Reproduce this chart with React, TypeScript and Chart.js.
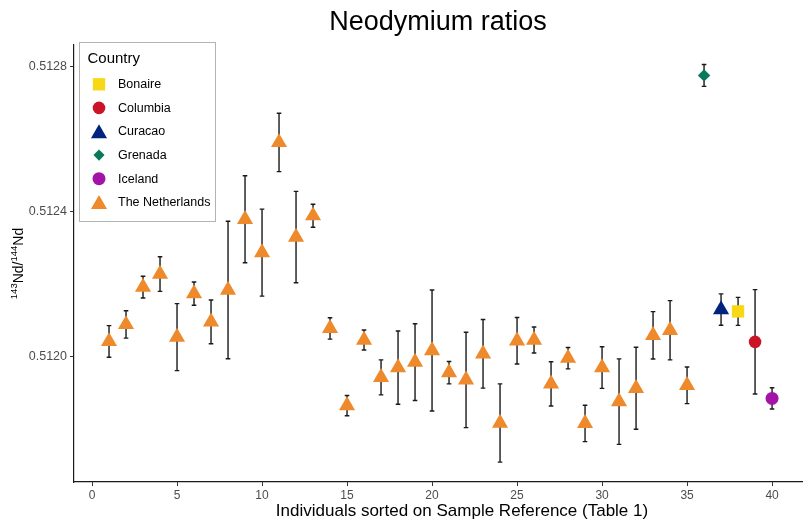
import React, { useEffect, useRef } from 'react';
import { Chart, registerables } from 'chart.js';

Chart.register(...registerables);

// ---------- data ----------
const individuals = [
  1, 2, 3, 4, 5, 6, 7, 8, 9, 10,
  11, 12, 13, 14, 15, 16, 17, 18, 19, 20,
  21, 22, 23, 24, 25, 26, 27, 28, 29, 30,
  31, 32, 33, 34, 35, 36, 37, 38, 39, 40,
];
const ndRatio = [
  0.512042, 0.512089, 0.512192, 0.512228, 0.512054, 0.512174, 0.512096, 0.512184, 0.512379, 0.512287,
  0.512591, 0.51233, 0.512389, 0.512078, 0.511865, 0.512046, 0.511943, 0.51197, 0.511985, 0.512017,
  0.511956, 0.511936, 0.512008, 0.511817, 0.512044, 0.512046, 0.511925, 0.511996, 0.511816, 0.51197,
  0.511876, 0.511913, 0.512059, 0.512073, 0.511921, 0.512776, 0.51213, 0.512125, 0.512041, 0.511885,
];
const ndError = [
  0.0000436, 0.0000377, 0.0000299, 0.0000478, 0.0000924, 0.0000322, 0.0000602, 0.0001895, 0.00012, 0.00012,
  0.0000805, 0.000126, 0.0000317, 0.0000295, 0.0000281, 0.0000276, 0.0000483, 0.000101, 0.000106, 0.000167,
  0.0000309, 0.0001316, 0.0000946, 0.000108, 0.000064, 0.0000359, 0.0000612, 0.0000295, 0.0000502, 0.0000574,
  0.000118, 0.000113, 0.0000653, 0.0000818, 0.0000506, 0.0000303, 0.0000433, 0.0000386, 0.000144, 0.0000295,
];
const NL = 'The Netherlands';
const sampleCountry = [
  NL, NL, NL, NL, NL, NL, NL, NL, NL, NL,
  NL, NL, NL, NL, NL, NL, NL, NL, NL, NL,
  NL, NL, NL, NL, NL, NL, NL, NL, NL, NL,
  NL, NL, NL, NL, NL, 'Grenada', 'Curacao', 'Bonaire', 'Columbia', 'Iceland',
];
const countries = ['Bonaire', 'Columbia', 'Curacao', 'Grenada', 'Iceland', 'The Netherlands'];
const countryColors = ['#F8D714', '#CB1428', '#00237E', '#087A5B', '#A313A8', '#EE8A2C'];
const countryShapes = ['rect', 'circle', 'triangle', 'rectRot', 'circle', 'triangle'];
const countryRadius = [8.7, 6.3, 9.3, 6.2, 6.5, 9.3];
const xTicks = [0, 5, 10, 15, 20, 25, 30, 35, 40];
const yTicks = [0.512, 0.5124, 0.5128];

const FONT = '"Liberation Sans", Arial, sans-serif';

function drawShape(ctx: CanvasRenderingContext2D, style: string, x: number, y: number, r: number) {
  ctx.beginPath();
  if (style === 'rect') {
    const s = r * Math.SQRT1_2;
    ctx.rect(x - s, y - s, 2 * s, 2 * s);
  } else if (style === 'circle') {
    ctx.arc(x, y, r, 0, Math.PI * 2);
  } else if (style === 'triangle') {
    ctx.moveTo(x, y - r);
    ctx.lineTo(x + 0.866 * r, y + 0.5 * r);
    ctx.lineTo(x - 0.866 * r, y + 0.5 * r);
    ctx.closePath();
  } else if (style === 'rectRot') {
    ctx.moveTo(x - r, y);
    ctx.lineTo(x, y - r);
    ctx.lineTo(x + r, y);
    ctx.lineTo(x, y + r);
    ctx.closePath();
  }
  ctx.fill();
}

const errorBarPlugin = {
  id: 'errorBars',
  beforeDatasetsDraw(chart: any) {
    const ctx = chart.ctx as CanvasRenderingContext2D;
    const xs = chart.scales.x;
    const ys = chart.scales.y;
    ctx.save();
    ctx.strokeStyle = '#1a1a1a';
    ctx.lineWidth = 1.4;
    individuals.forEach((xi, i) => {
      const px = xs.getPixelForValue(xi);
      const top = ys.getPixelForValue(ndRatio[i] + ndError[i]);
      const bot = ys.getPixelForValue(ndRatio[i] - ndError[i]);
      ctx.beginPath();
      ctx.moveTo(px, top);
      ctx.lineTo(px, bot);
      ctx.moveTo(px - 2.3, top);
      ctx.lineTo(px + 2.3, top);
      ctx.moveTo(px - 2.3, bot);
      ctx.lineTo(px + 2.3, bot);
      ctx.stroke();
    });
    ctx.restore();
  },
};

const textPlugin = {
  id: 'texts',
  afterDraw(chart: any) {
    const ctx = chart.ctx as CanvasRenderingContext2D;
    const area = chart.chartArea;
    ctx.save();
    // Title
    ctx.fillStyle = '#000';
    ctx.font = `27px ${FONT}`;
    ctx.textAlign = 'center';
    ctx.textBaseline = 'alphabetic';
    ctx.fillText('Neodymium ratios', 438, 30);
    // X axis title
    ctx.font = `17px ${FONT}`;
    ctx.fillText('Individuals sorted on Sample Reference (Table 1)', 462, 516);

    // Y axis title with superscripts
    const parts: [string, number, number][] = [
      ['143', 9.5, -5.5],
      ['Nd/', 14, 0],
      ['144', 9.5, -5.5],
      ['Nd', 14, 0],
    ];
    let total = 0;
    parts.forEach(([t, s]) => {
      ctx.font = `${s}px ${FONT}`;
      total += ctx.measureText(t).width;
    });
    ctx.translate(22.5, (area.top + area.bottom) / 2);
    ctx.rotate(-Math.PI / 2);
    ctx.textAlign = 'left';
    let xx = -total / 2;
    parts.forEach(([t, s, dy]) => {
      ctx.font = `${s}px ${FONT}`;
      ctx.fillText(t, xx, dy);
      xx += ctx.measureText(t).width;
    });
    ctx.restore();

    // Legend
    ctx.save();
    const lx = 79.5, ly = 42.5, lw = 136, lh = 179;
    ctx.fillStyle = '#fff';
    ctx.fillRect(lx, ly, lw, lh);
    ctx.strokeStyle = '#b3b3b3';
    ctx.lineWidth = 1;
    ctx.strokeRect(lx, ly, lw, lh);
    ctx.fillStyle = '#000';
    ctx.font = `15px ${FONT}`;
    ctx.textAlign = 'left';
    ctx.textBaseline = 'middle';
    ctx.fillText('Country', 87.5, 59);
    ctx.font = `12.5px ${FONT}`;
    countries.forEach((c, i) => {
      const cy = 84.3 + i * 23.6;
      ctx.fillStyle = countryColors[i];
      drawShape(ctx, countryShapes[i], 99, cy + (countryShapes[i] === 'triangle' ? 2 : 0), countryRadius[i] * (countryShapes[i] === 'rectRot' ? 0.9 : 1));
      ctx.fillStyle = '#000';
      ctx.fillText(c, 118, cy + 0.5);
    });
    ctx.restore();
  },
};

export default function App() {
  const canvasRef = useRef<HTMLCanvasElement | null>(null);

  useEffect(() => {
    document.body.style.margin = '0';
    const canvas = canvasRef.current;
    if (!canvas) return;

    const datasets = countries.map((c, ci) => {
      const data: { x: number; y: number }[] = [];
      individuals.forEach((xi, i) => {
        if (sampleCountry[i] === c) data.push({ x: xi, y: ndRatio[i] });
      });
      return {
        label: c,
        data,
        pointStyle: countryShapes[ci] as any,
        pointRadius: countryRadius[ci],
        pointHoverRadius: countryRadius[ci],
        backgroundColor: countryColors[ci],
        borderColor: countryColors[ci],
        borderWidth: 0,
        showLine: false,
      };
    });

    const chart = new Chart(canvas, {
      type: 'scatter',
      data: { datasets },
      options: {
        animation: false,
        responsive: false,
        devicePixelRatio: 1,
        layout: { autoPadding: false, padding: { top: 45, left: 0, right: 0, bottom: 0 } },
        plugins: {
          legend: { display: false },
          tooltip: { enabled: false },
          title: { display: false },
        },
        scales: {
          x: {
            type: 'linear',
            min: -1.06,
            max: 41.82,
            afterBuildTicks: (scale: any) => {
              scale.ticks = xTicks.map((v) => ({ value: v }));
            },
            afterFit: (scale: any) => {
              scale.height = 37;
            },
            ticks: {
              color: '#4D4D4D',
              font: { family: FONT, size: 12 },
              padding: 2,
              maxRotation: 0,
              autoSkip: false,
              callback: (v: any) => String(v),
            },
            grid: {
              display: true,
              drawOnChartArea: false,
              drawTicks: true,
              tickLength: 4,
              tickColor: '#333',
              tickWidth: 1,
            },
            border: { display: true, color: '#1a1a1a', width: 1.2 },
          },
          y: {
            type: 'linear',
            min: 0.5116543,
            max: 0.5128599,
            afterBuildTicks: (scale: any) => {
              scale.ticks = yTicks.map((v) => ({ value: v }));
            },
            afterFit: (scale: any) => {
              scale.width = 74;
            },
            ticks: {
              color: '#4D4D4D',
              font: { family: FONT, size: 12.5 },
              padding: 3,
              autoSkip: false,
              callback: (v: any) => Number(v).toFixed(4),
            },
            grid: {
              display: true,
              drawOnChartArea: false,
              drawTicks: true,
              tickLength: 4,
              tickColor: '#333',
              tickWidth: 1,
            },
            border: { display: true, color: '#1a1a1a', width: 1.2 },
          },
        },
      },
      plugins: [errorBarPlugin, textPlugin],
    });

    return () => {
      chart.destroy();
    };
  }, []);

  return (
    <div style={{ width: 803, height: 519, position: 'relative', background: '#fff' }}>
      <canvas ref={canvasRef} width={803} height={519} style={{ width: 803, height: 519, display: 'block' }} />
    </div>
  );
}
